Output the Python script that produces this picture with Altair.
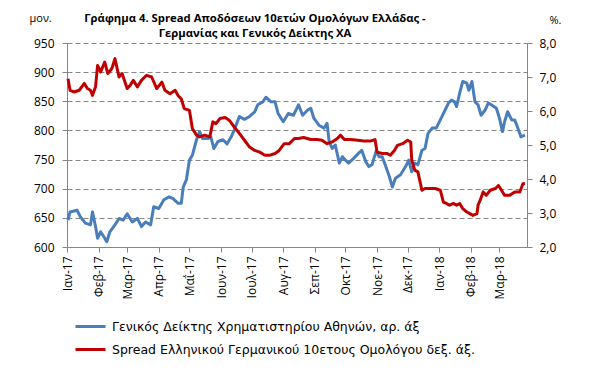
import altair as alt
import pandas as pd

blue_dates = ["2017-01-02","2017-01-04","2017-01-11","2017-01-14","2017-01-19","2017-01-24","2017-01-26","2017-01-29","2017-01-31","2017-02-03","2017-02-06","2017-02-09","2017-02-12","2017-02-17","2017-02-21","2017-02-25","2017-03-01","2017-03-06","2017-03-11","2017-03-15","2017-03-19","2017-03-24","2017-03-27","2017-04-01","2017-04-06","2017-04-11","2017-04-15","2017-04-20","2017-04-23","2017-04-25","2017-04-28","2017-05-01","2017-05-04","2017-05-08","2017-05-11","2017-05-14","2017-05-19","2017-05-22","2017-05-25","2017-05-29","2017-06-03","2017-06-07","2017-06-11","2017-06-14","2017-06-19","2017-06-24","2017-06-29","2017-07-04","2017-07-07","2017-07-12","2017-07-15","2017-07-20","2017-07-24","2017-07-27","2017-08-01","2017-08-06","2017-08-11","2017-08-16","2017-08-20","2017-08-25","2017-08-28","2017-08-31","2017-09-05","2017-09-10","2017-09-13","2017-09-15","2017-09-18","2017-09-21","2017-09-25","2017-09-28","2017-10-01","2017-10-04","2017-10-09","2017-10-14","2017-10-17","2017-10-21","2017-10-24","2017-10-27","2017-10-31","2017-11-03","2017-11-06","2017-11-09","2017-11-13","2017-11-16","2017-11-19","2017-11-24","2017-11-29","2017-12-02","2017-12-05","2017-12-08","2017-12-11","2017-12-15","2017-12-18","2017-12-21","2017-12-25","2017-12-29","2018-01-02","2018-01-05","2018-01-10","2018-01-13","2018-01-16","2018-01-18","2018-01-21","2018-01-24","2018-01-28","2018-01-30","2018-02-02","2018-02-05","2018-02-08","2018-02-11","2018-02-15","2018-02-18","2018-02-21","2018-02-26","2018-03-01","2018-03-04","2018-03-06","2018-03-09","2018-03-13","2018-03-16","2018-03-19","2018-03-22","2018-03-26"]
blue_values = [646,660,663,652,641,638,660,635,615,626,618,609,626,638,649,646,657,643,649,635,643,638,669,666,681,686,683,675,675,703,715,749,758,784,798,786,786,789,769,781,784,777,789,801,824,819,824,832,844,849,857,849,849,829,815,829,826,844,826,835,838,821,809,804,812,781,769,775,744,755,749,744,752,761,766,746,738,741,764,755,755,741,721,703,718,724,738,749,729,744,741,766,769,795,804,804,818,829,847,852,849,841,864,884,881,869,884,849,844,826,835,847,844,838,821,798,815,832,818,818,804,789,792]

red_dates = ["2017-01-02","2017-01-04","2017-01-08","2017-01-13","2017-01-18","2017-01-21","2017-01-24","2017-01-26","2017-01-29","2017-01-31","2017-02-03","2017-02-07","2017-02-10","2017-02-14","2017-02-17","2017-02-21","2017-02-24","2017-03-01","2017-03-04","2017-03-07","2017-03-11","2017-03-15","2017-03-20","2017-03-25","2017-03-30","2017-04-04","2017-04-07","2017-04-12","2017-04-17","2017-04-20","2017-04-23","2017-04-26","2017-05-01","2017-05-04","2017-05-08","2017-05-11","2017-05-16","2017-05-21","2017-05-24","2017-05-27","2017-05-31","2017-06-05","2017-06-09","2017-06-14","2017-06-19","2017-06-24","2017-06-29","2017-07-04","2017-07-09","2017-07-14","2017-07-19","2017-07-24","2017-07-28","2017-08-02","2017-08-07","2017-08-12","2017-08-16","2017-08-21","2017-08-28","2017-09-03","2017-09-08","2017-09-13","2017-09-18","2017-09-23","2017-09-26","2017-09-30","2017-10-06","2017-10-13","2017-10-19","2017-10-26","2017-10-30","2017-11-01","2017-11-06","2017-11-11","2017-11-14","2017-11-18","2017-11-21","2017-11-26","2017-12-01","2017-12-04","2017-12-05","2017-12-08","2017-12-11","2017-12-15","2017-12-18","2017-12-23","2017-12-28","2018-01-02","2018-01-05","2018-01-08","2018-01-11","2018-01-15","2018-01-18","2018-01-21","2018-01-24","2018-01-28","2018-01-31","2018-02-03","2018-02-07","2018-02-08","2018-02-10","2018-02-13","2018-02-16","2018-02-20","2018-02-25","2018-02-28","2018-03-03","2018-03-06","2018-03-11","2018-03-16","2018-03-21","2018-03-24","2018-03-26"]
red_values = [6.95,6.61,6.56,6.61,6.81,6.66,6.61,6.46,6.71,7.34,7.15,7.44,7.10,7.25,7.54,7.00,7.10,6.66,6.76,6.90,6.71,6.90,7.05,7.00,6.66,6.85,6.61,6.51,6.61,6.45,6.36,6.07,6.02,5.48,5.29,5.24,5.29,5.24,5.68,5.63,5.78,5.81,5.73,5.53,5.34,5.14,4.94,4.84,4.79,4.70,4.70,4.75,4.84,5.04,5.04,5.19,5.19,5.22,5.16,5.16,5.14,5.04,5.09,5.19,5.29,5.16,5.16,5.14,5.12,5.12,5.16,4.79,4.75,4.75,4.70,4.84,4.99,5.04,5.14,5.09,4.55,4.26,4.21,3.67,3.72,3.72,3.72,3.67,3.32,3.28,3.23,3.28,3.23,3.28,3.13,3.03,2.98,2.93,2.98,3.23,3.37,3.62,3.52,3.67,3.72,3.81,3.67,3.52,3.52,3.62,3.62,3.86,3.87]

series_names = ["Γενικός Δείκτης Χρηματιστηρίου Αθηνών, αρ. άξ",
                "Spread Ελληνικού Γερμανικού 10ετους  Ομολόγου δεξ. άξ."]
series_colors = ["#4A7EBB", "#C00000"]
month_names = ["Ιαν", "Φεβ", "Μαρ", "Απρ", "Μαΐ", "Ιουν", "Ιουλ", "Αυγ", "Σεπ", "Οκτ", "Νοε", "Δεκ"]
tick_months = [(2017, m) for m in range(1, 13)] + [(2018, m) for m in range(1, 4)]
left_ticks = [600, 650, 700, 750, 800, 850, 900, 950]
right_ticks = [2, 3, 4, 5, 6, 7, 8]
title_lines = ["Γράφημα 4. Spread Αποδόσεων 10ετών Ομολόγων Ελλάδας -",
               "Γερμανίας και Γενικός Δείκτης ΧΑ"]

FONT = "Open Sans"
LFONT = "DejaVu Sans"
GRAY = "#868686"

df_b = pd.DataFrame({"date": pd.to_datetime(blue_dates), "value": blue_values, "series": series_names[0]})
df_r = pd.DataFrame({"date": pd.to_datetime(red_dates), "value": red_values, "series": series_names[1]})

month_arr = "[" + ",".join("'" + m + "'" for m in month_names) + "]"
x_enc = alt.X(
    "date:T",
    scale=alt.Scale(domain=[alt.DateTime(year=2017, month=1, date=1),
                            alt.DateTime(year=2018, month=3, date=28)]),
    axis=alt.Axis(
        values=[alt.DateTime(year=y, month=m, date=1) for y, m in tick_months],
        labelExpr=month_arr + "[month(datum.value)] + '-' + timeFormat(datum.value, '%y')",
        labelAngle=-90, title=None, grid=False, tickSize=5, labelPadding=4,
        domainColor=GRAY, tickColor=GRAY, labelFontSize=12, labelColor="black",
        labelFont=FONT, labelOverlap=False,
    ),
)

color_enc = alt.Color(
    "series:N",
    scale=alt.Scale(domain=series_names, range=series_colors),
    legend=alt.Legend(
        title=None, orient="none", legendX=7, legendY=267, direction="vertical",
        symbolType="stroke", symbolStrokeWidth=3, symbolSize=900,
        labelFontSize=12.5, labelFont=LFONT, labelLimit=0, rowPadding=0,
        labelColor="black", labelOffset=5,
    ),
)

blue = alt.Chart(df_b).mark_line(strokeWidth=3, strokeJoin="round").encode(
    x=x_enc,
    y=alt.Y("value:Q", scale=alt.Scale(domain=[600, 950], nice=False, zero=False),
            axis=alt.Axis(values=left_ticks, grid=True, gridDash=[5, 3], gridColor=GRAY,
                          domainColor=GRAY, tickColor=GRAY, tickSize=5, labelPadding=8,
                          labelFontSize=12, labelFont=FONT, labelColor="black",
                          title="μον.", titleAngle=0, titleX=-38, titleY=-20,
                          titleAlign="left", titleFontWeight="normal", titleFontSize=11,
                          titleFont=FONT, titleColor="black")),
    color=color_enc,
)

red = alt.Chart(df_r).mark_line(strokeWidth=3, strokeJoin="round").encode(
    x=x_enc,
    y=alt.Y("value:Q", scale=alt.Scale(domain=[2, 8], nice=False, zero=False),
            axis=alt.Axis(orient="right", values=right_ticks, grid=False,
                          labelExpr="replace(format(datum.value, '.1f'), '.', ',')",
                          domainColor=GRAY, tickColor=GRAY, tickSize=5, labelPadding=7,
                          labelFontSize=12, labelFont=FONT, labelColor="black",
                          title="%.", titleAngle=0, titleX=22, titleY=-18,
                          titleAlign="left", titleFontWeight="normal", titleFontSize=11,
                          titleFont=FONT, titleColor="black")),
    color=color_enc,
)

chart = alt.layer(blue, red).resolve_scale(y="independent").properties(
    width=460, height=204,
    autosize=alt.AutoSizeParams(type="none"),
    padding={"left": 59, "top": 35, "right": 62, "bottom": 124},
    title=alt.TitleParams(text=title_lines, font=FONT, fontSize=11.3, fontWeight="bold",
                          anchor="middle", dx=-42, offset=-27, lineHeight=15, color="black"),
).configure_view(stroke=None)

chart.save("out.html", embed_options={"renderer": "svg", "actions": False})
